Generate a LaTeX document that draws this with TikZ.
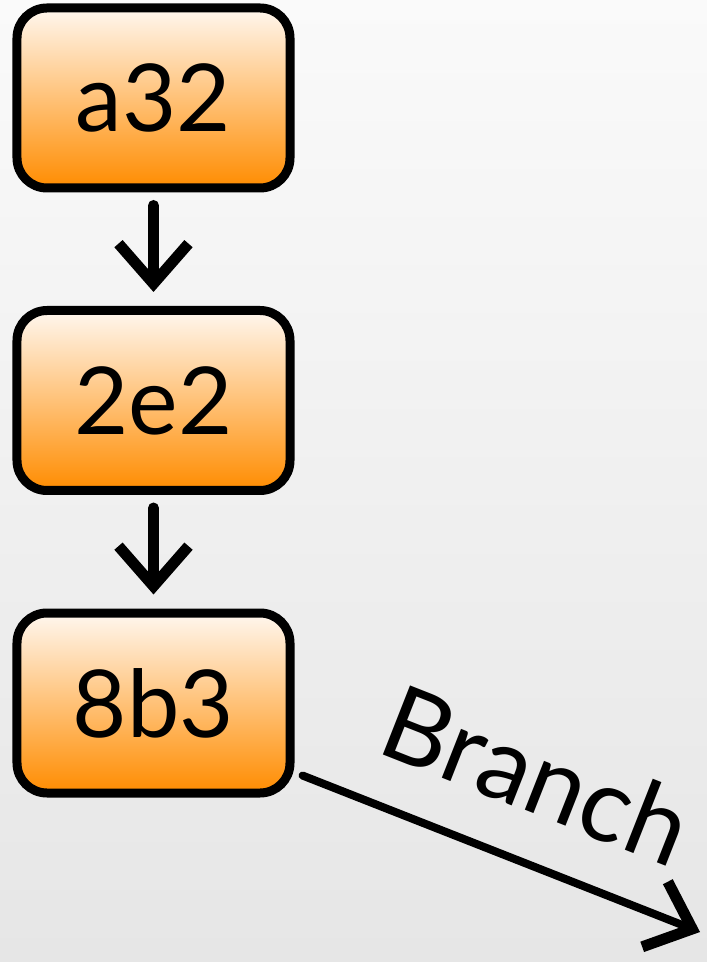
\documentclass[tikz,border=0pt]{standalone}
\usepackage{fontspec}
\setmainfont{Lato}
\usetikzlibrary{positioning,arrows.meta}
\definecolor{commitlight}{HTML}{FFF7EF}
\definecolor{commitdark}{HTML}{FF8C00}
\definecolor{bglight}{HTML}{FAFAFA}
\definecolor{bgdark}{HTML}{E6E6E6}

\begin{document}
\begin{tikzpicture}[
  x=1bp, y=1bp,
  node distance=113.5bp,
  commit/.style = {shape=rectangle, rounded corners=30bp, draw, line width=9bp,
                   minimum width=273bp, minimum height=180bp, inner sep=0pt,
                   top color=commitlight, bottom color=commitdark,
                   font=\fontsize{94}{94}\selectfont},
  link/.style = {line width=11bp, line cap=round,
                 -{Straight Barb[length=40bp,width=70bp,line width=11bp]}}
]
  % background
  \shade[top color=bglight, bottom color=bgdark] (0,0) rectangle (707,962);
  \useasboundingbox (0,0) rectangle (707,962);

  % commits
  \node[commit] (a32) at (153.5,864) {a32};
  \node[commit, below=of a32] (c2e2) {2e2};
  \node[commit, below=of c2e2] (c8b3) {8b3};

  \draw[link] ([yshift=-13bp]a32.south) -- ([yshift=14bp]c2e2.north);
  \draw[link] ([yshift=-13bp]c2e2.south) -- ([yshift=14bp]c8b3.north);

  % branch
  \coordinate (tip) at (700,30);
  \draw[link, line width=8bp] ([shift={(8bp,22bp)}]c8b3.south east) -- (tip)
    node[pos=0.51, above=44bp, sloped, inner sep=0pt,
         font=\fontsize{104}{104}\selectfont] {Branch};
\end{tikzpicture}
\end{document}
